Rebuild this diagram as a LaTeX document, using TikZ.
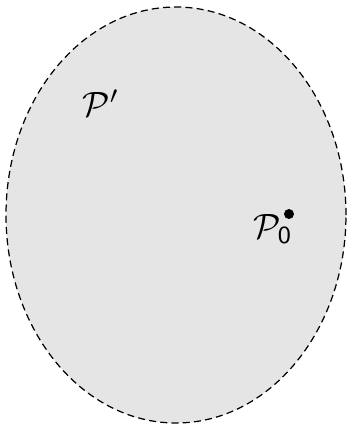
\documentclass[tikz,border=0pt]{standalone}
\usepackage{amsmath,amssymb}
\usepackage{tikz}
\usetikzlibrary{positioning}

\begin{document}
\begin{tikzpicture}
  \tikzstyle{region}=[draw,fill=gray!20,line width=0.35pt,dash pattern=on 2pt off 1.2pt]
  \tikzstyle{pt}=[circle,fill,inner sep=0pt,minimum size=0.1cm]
  \useasboundingbox (0,0) rectangle (3.49,4.26);
  \draw[region] (1.76,2.11) ellipse [x radius=1.70cm,y radius=2.08cm];
  \node (pprime) at (1.01,3.23) {$\mathcal{P}'$};
  \node[pt] (dot) at (2.89,2.12) {};
  \node (pzero) at (2.73,1.97) {$\mathcal{P}_{\mathsf{0}}$};
\end{tikzpicture}
\end{document}
